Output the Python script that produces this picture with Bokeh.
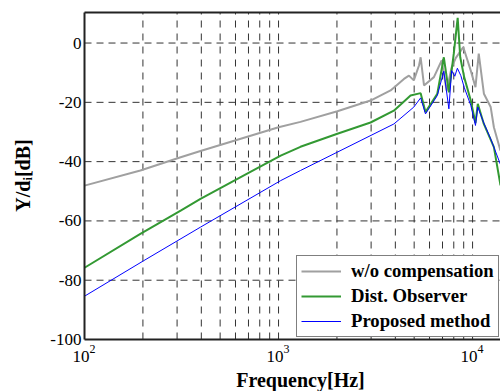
from bokeh.plotting import figure
from bokeh.models import Range1d, Label
from bokeh.embed import file_html
from bokeh.resources import INLINE

# ---- data ----
f_gray = [100, 194, 313, 396, 1000, 1297, 2010, 2980, 3780, 4430, 4700, 4980, 5300, 5400,
          5620, 6320, 6930, 7350, 7800, 8200, 8960, 9790, 10350, 10760, 11440, 12400, 12880, 13930]
db_gray = [-48.1, -43.0, -38.5, -36.4, -28.4, -26.6, -23.0, -19.4, -16.0, -12.1, -11.0, -12.6, -7.5, -4.8,
           -14.3, -11.5, -5.9, -16.0, -8.2, -5.0, -1.4, -9.3, -14.9, -3.6, -17.1, -21.6, -28.4, -36.3]

f_green = [100, 194, 313, 396, 720, 1026, 1297, 2010, 2980, 3930, 4790, 5400, 5720, 6580, 7110, 7550,
           8000, 8380, 8640, 9050, 9790, 10350, 10640, 11430, 12880, 13930]
db_green = [-75.8, -64.4, -56.5, -52.6, -43.4, -38.0, -35.0, -30.6, -26.8, -22.8, -17.7, -16.9, -23.3, -17.1, -4.8, -16.6,
            -3.6, 8.5, -4.8, -11.5, -19.4, -27.0, -20.5, -27.3, -35.1, -48.0]

f_blue = [100, 202, 396, 1026, 1297, 2010, 3930, 4980, 5400, 5720, 6580, 7110, 7550, 7800, 8100,
          8350, 8700, 9050, 9790, 10350, 10640, 11430, 12400, 13930]
db_blue = [-85.4, -73.4, -62.1, -46.4, -43.0, -36.8, -27.3, -21.6, -18.5, -23.9, -17.7, -9.5, -22.2, -9.3, -11.2,
           -8.5, -11.0, -14.9, -21.0, -27.8, -21.6, -27.0, -32.3, -41.0]

labels = ["w/o compensation", "Dist. Observer", "Proposed method"]
x_major = [100, 1000, 10000]
x_tick_base = "10"
x_tick_exp = ["2", "3", "4"]
x_minor = [200, 300, 400, 500, 600, 700, 800, 900,
           2000, 3000, 4000, 5000, 6000, 7000, 8000, 9000]
y_ticks = [-100, -80, -60, -40, -20, 0]
y_tick_labels = ["-100", "-80", "-60", "-40", "-20", "0"]
x_title = "Frequency[Hz]"
y_title = "Y/d\u1d62[dB]"

# axis limits of the plotted area
X_MIN, X_MAX = 100, 13930
Y_MIN, Y_MAX = -100, 10.3

SERIF = "Liberation Serif"
FONT = "Liberation Serif, Times New Roman, DejaVu Serif, serif"
GRID = "#333333"
AXIS = "#222222"

# the frame fills the canvas; the axis box is drawn with the data scales
p = figure(width=500, height=391, x_axis_type="log", output_backend="svg", toolbar_location=None,
           x_axis_location=None, y_axis_location=None,
           x_range=Range1d(36.9, X_MAX), y_range=Range1d(-117.54, 14.35),
           min_border_left=0, min_border_right=0, min_border_top=0, min_border_bottom=0)
p.outline_line_color = None
p.background_fill_color = "white"
p.border_fill_color = "white"
p.xgrid.visible = False
p.ygrid.visible = False

# grid lines (dashed), at the tick positions
vx = x_major[1:] + x_minor
p.segment(x0=vx, y0=[Y_MIN] * len(vx), x1=vx, y1=[Y_MAX] * len(vx),
          line_color=GRID, line_width=1, line_dash="7 6")
hy = y_ticks[1:]
p.segment(x0=[X_MIN] * len(hy), y0=hy, x1=[X_MAX] * len(hy), y1=hy,
          line_color=GRID, line_width=1, line_dash="7 5")

# data
p.line(f_gray, db_gray, line_color="#a0a0a0", line_width=2, legend_label=labels[0])
p.line(f_green, db_green, line_color="#339933", line_width=2, legend_label=labels[1])
p.line(f_blue, db_blue, line_color="#0000ff", line_width=1, legend_label=labels[2])

# axis box: left, bottom, top
p.segment(x0=[X_MIN, X_MIN, X_MIN], y0=[Y_MIN, Y_MIN, Y_MAX],
          x1=[X_MIN, X_MAX, X_MAX], y1=[Y_MAX, Y_MIN, Y_MAX],
          line_color=AXIS, line_width=2)

# tick labels
for v, t in zip(y_ticks, y_tick_labels):
    p.add_layout(Label(x=X_MIN, y=v, x_offset=-3, text=t,
                       text_align="right", text_baseline="middle",
                       text_font=SERIF, text_font_size="17px", text_color="black"))
for v, e in zip(x_major, x_tick_exp):
    p.add_layout(Label(x=v, y=Y_MIN, x_offset=5, y_offset=-11, text=x_tick_base,
                       text_align="right", text_baseline="top",
                       text_font=SERIF, text_font_size="17px", text_color="black"))
    p.add_layout(Label(x=v, y=Y_MIN, x_offset=5, y_offset=-5, text=e,
                       text_align="left", text_baseline="top",
                       text_font=SERIF, text_font_size="12px", text_color="black"))

# axis titles
p.add_layout(Label(x=300, y=22.5, x_units="screen", y_units="screen", text=x_title,
                   text_align="center", text_baseline="top",
                   text_font=SERIF, text_font_style="bold", text_font_size="20px", text_color="black"))
p.add_layout(Label(x=22, y=216, x_units="screen", y_units="screen", text=y_title,
                   angle=90, angle_units="deg", text_align="center", text_baseline="middle",
                   text_font=SERIF, text_font_style="bold", text_font_size="20px", text_color="black"))

lg = p.legend[0]
lg.location = (296, 54)
lg.label_text_font = FONT
lg.label_text_font_style = "bold"
lg.label_text_font_size = "18.7px"
lg.label_text_color = "black"
lg.glyph_width = 40
lg.glyph_height = 20
lg.label_height = 20
lg.label_standoff = 10
lg.padding = 4
lg.spacing = 3
lg.margin = 0
lg.border_line_color = "black"
lg.border_line_width = 1
lg.background_fill_color = "white"
lg.background_fill_alpha = 1.0

open("out.html", "w").write(file_html(p, INLINE))
